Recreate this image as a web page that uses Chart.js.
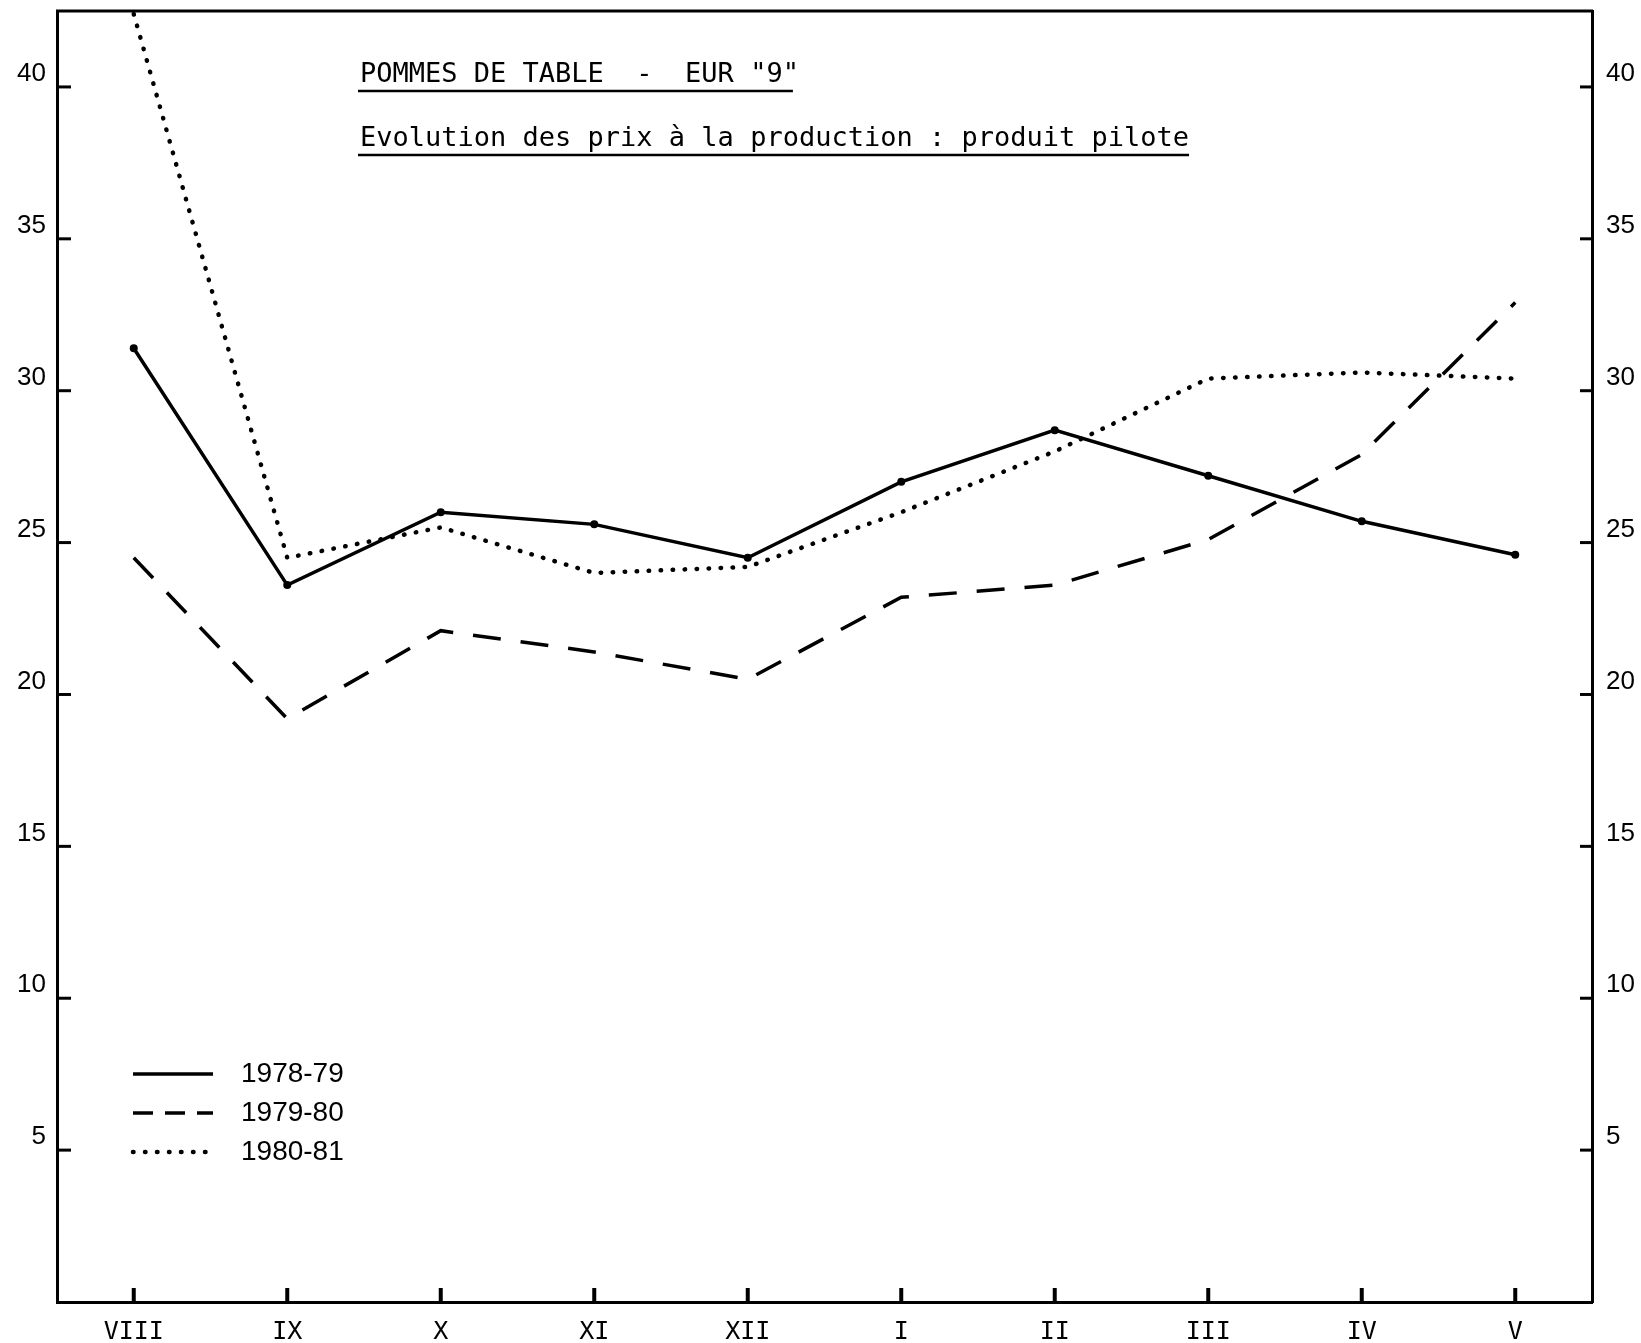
<!DOCTYPE html>
<html>
<head>
<meta charset="utf-8">
<script src="https://cdn.jsdelivr.net/npm/chart.js@4/dist/chart.umd.min.js"></script>
<style>
    html, body { margin: 0; padding: 0; background: #fff; }
    #wrap { width: 1641px; height: 1343px; position: relative; }
</style>
</head>
<body>
<div id="wrap"><canvas id="prixChart"></canvas></div>
<script>
// mois de la campagne (août -> mai)
const months = ['VIII', 'IX', 'X', 'XI', 'XII', 'I', 'II', 'III', 'IV', 'V'];
const seriesNames = ['1978-79', '1979-80', '1980-81'];
const prix7879 = [31.4, 23.6, 26.0, 25.6, 24.5, 27.0, 28.7, 27.2, 25.7, 24.6];
const prix7980 = [24.5, 19.2, 22.1, 21.4, 20.5, 23.2, 23.6, 25.1, 27.9, 32.9];
const prix8081 = [42.4, 24.5, 25.5, 24.0, 24.2, 26.0, 28.0, 30.4, 30.6, 30.4];
const yTicks = [5, 10, 15, 20, 25, 30, 35, 40];
const titleLine1 = 'POMMES DE TABLE  -  EUR "9"';
const titleLine2 = 'Evolution des prix à la production : produit pilote';

const INK = '#000';
const styles = [
    { dash: [], width: 3.5, radius: 4 },
    { dash: [28, 20], width: 3.5, radius: 0 },
    { dash: [0.5, 11.5], width: 4.5, radius: 0 }
];

const decor = {
    id: 'decor',
    afterDraw(chart) {
        const c = chart.ctx;
        const a = chart.chartArea;
        const x = chart.scales.x, yl = chart.scales.y, yr = chart.scales.y2;
        c.save();
        c.strokeStyle = INK;
        c.fillStyle = INK;
        c.lineCap = 'butt';

        // cadre du haut
        c.lineWidth = 3;
        c.beginPath();
        c.moveTo(a.left - 1, a.top);
        c.lineTo(a.right + 1, a.top);
        c.stroke();

        // graduations vers l'intérieur
        c.lineWidth = 3;
        yTicks.forEach(v => {
            const py = yl.getPixelForValue(v);
            c.beginPath();
            c.moveTo(a.left, py);
            c.lineTo(a.left + 14, py);
            c.stroke();
            const pr = yr.getPixelForValue(v);
            c.beginPath();
            c.moveTo(a.right, pr);
            c.lineTo(a.right - 12, pr);
            c.stroke();
        });
        months.forEach((m, i) => {
            const px = x.getPixelForValue(i);
            c.lineWidth = 4;
            c.beginPath();
            c.moveTo(px, a.bottom);
            c.lineTo(px, a.bottom - 14);
            c.stroke();
        });

        // titre souligné
        c.font = '27px "DejaVu Sans Mono"';
        c.textBaseline = 'alphabetic';
        c.textAlign = 'left';
        c.fillText(titleLine1, 360, 82);
        c.fillText(titleLine2, 360, 146);
        c.lineWidth = 2.5;
        c.beginPath();
        c.moveTo(358, 91); c.lineTo(360 + c.measureText(titleLine1).width - 6, 91);
        c.moveTo(358, 155); c.lineTo(360 + c.measureText(titleLine2).width, 155);
        c.stroke();

        // légende
        c.font = '28px "Liberation Sans"';
        c.textBaseline = 'middle';
        chart.data.datasets.forEach((ds, i) => {
            const ly = 1074 + i * 39;
            c.lineWidth = ds.borderWidth;
            c.lineCap = i === 2 ? 'round' : 'butt';
            c.setLineDash(i === 1 ? [20, 12] : ds.borderDash);
            c.beginPath();
            c.moveTo(133, ly);
            c.lineTo(213, ly);
            c.stroke();
            c.setLineDash([]);
            c.fillText(ds.label, 241, ly);
        });
        c.restore();
    }
};

const yAxis = (pos, w) => ({
    position: pos,
    min: 0,
    max: 42.5,
    grid: { display: false, drawTicks: false },
    border: { display: true, color: INK, width: 3 },
    ticks: {
        stepSize: 5,
        color: INK,
        padding: pos === 'left' ? 11 : 14,
        labelOffset: -13,
        font: { family: 'Liberation Sans', size: 26 },
        callback: v => (v > 0 && v % 5 === 0) ? v : ''
    },
    afterFit: s => { s.width = w; s.paddingTop = 0; s.paddingBottom = 0; }
});

document.addEventListener('DOMContentLoaded', function() {
    const ctx = document.getElementById('prixChart');
    const values = [prix7879, prix7980, prix8081];

    new Chart(ctx.getContext('2d'), {
        type: 'line',
        data: {
            labels: months,
            datasets: values.map((vals, i) => ({
                label: seriesNames[i],
                data: vals,
                yAxisID: 'y',
                borderColor: INK,
                backgroundColor: INK,
                borderWidth: styles[i].width,
                borderDash: styles[i].dash,
                borderCapStyle: i === 2 ? 'round' : 'butt',
                tension: 0,
                fill: false,
                pointRadius: styles[i].radius,
                pointBorderWidth: 0,
                pointBackgroundColor: INK
            }))
        },
        options: {
            responsive: true,
            maintainAspectRatio: false,
            animation: false,
            layout: { padding: { top: 11, left: 0, right: 0, bottom: 0 } },
            plugins: { legend: { display: false }, tooltip: { enabled: false } },
            scales: {
                x: {
                    offset: true,
                    grid: { display: false, drawTicks: false },
                    border: { display: true, color: INK, width: 3 },
                    ticks: {
                        color: INK,
                        padding: 15,
                        font: { family: 'DejaVu Sans Mono', size: 25 }
                    },
                    afterFit: s => { s.height = 41; s.paddingLeft = 0; s.paddingRight = 0; }
                },
                y: yAxis('left', 57),
                y2: yAxis('right', 49)
            }
        },
        plugins: [decor]
    });
});
</script>
</body>
</html>
